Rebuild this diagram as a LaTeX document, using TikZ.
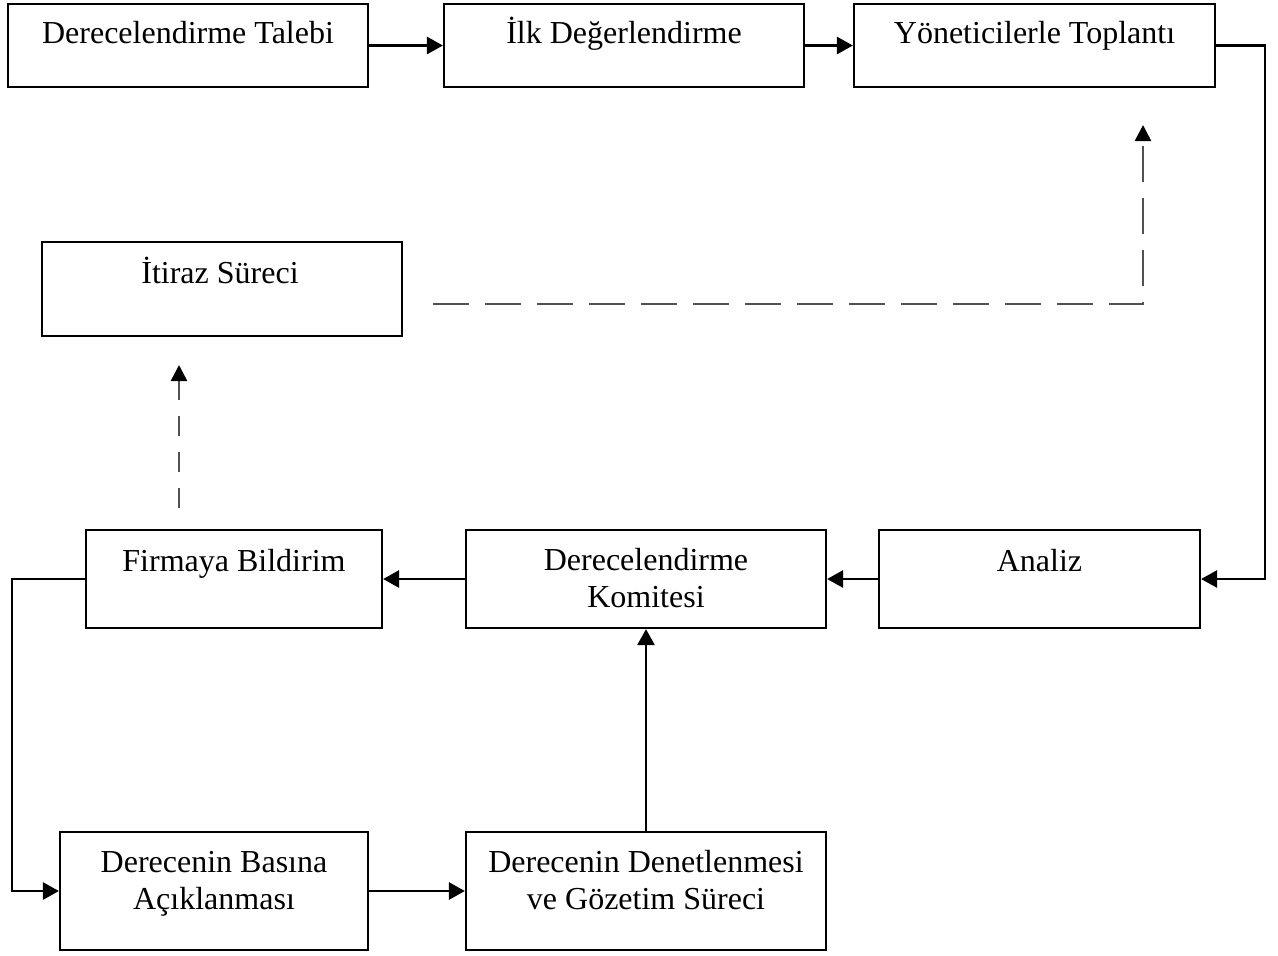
\documentclass[tikz,border=0pt]{standalone}
\usepackage{fontspec}
\setmainfont{Liberation Serif}
\usetikzlibrary{arrows.meta}
\begin{document}
\begin{tikzpicture}[x=0.5pt,y=-0.5pt,
  box/.style={draw=black,line width=1.1pt,rectangle,inner sep=0pt},
  lbl/.style={anchor=base,inner sep=0pt,font=\fontsize{16}{19}\selectfont},
  conn/.style={line width=1.4pt,-{Triangle[length=8pt,width=8.5pt]}},
  dconn/.style={line width=1.3pt,draw=black!68,-{Triangle[length=8pt,width=8pt,fill=black,color=black]}},
  longdash/.style={dash pattern=on 18pt off 8pt},
  shortdash/.style={dash pattern=on 10pt off 8pt}]
\useasboundingbox (0,0) rectangle (1278,955);
% boxes
\node[box,minimum width=180pt,minimum height=41.5pt] (talebi) at (188,45.5) {};
\node[box,minimum width=180pt,minimum height=41.5pt] (ilk) at (624,45.5) {};
\node[box,minimum width=180.5pt,minimum height=41.5pt] (yon) at (1034.5,45.5) {};
\node[box,minimum width=180pt,minimum height=47pt] (itiraz) at (222,289) {};
\node[box,minimum width=148pt,minimum height=49pt] (firma) at (234,579) {};
\node[box,minimum width=180pt,minimum height=49pt] (komite) at (646,579) {};
\node[box,minimum width=160.5pt,minimum height=49pt] (analiz) at (1039.5,579) {};
\node[box,minimum width=154pt,minimum height=59pt] (basina) at (214,891) {};
\node[box,minimum width=180pt,minimum height=59pt] (denet) at (646,891) {};
% texts
\node[lbl] (talebiT) at (188,43) {Derecelendirme Talebi};
\node[lbl] (ilkT) at (624,43) {İlk Değerlendirme};
\node[lbl] (yonT) at (1034.5,43) {Yöneticilerle Toplantı};
\node[lbl] (itirazT) at (220,283) {İtiraz Süreci};
\node[lbl] (firmaT) at (234,571) {Firmaya Bildirim};
\node[lbl] (komiteT1) at (646,570) {Derecelendirme};
\node[lbl] (komiteT2) at (646,607) {Komitesi};
\node[lbl] (analizT) at (1039.5,571) {Analiz};
\node[lbl] (basinaT1) at (214,872) {Derecenin Basına};
\node[lbl] (basinaT2) at (214,909) {Açıklanması};
\node[lbl] (denetT1) at (646,872) {Derecenin Denetlenmesi};
\node[lbl] (denetT2) at (646,909) {ve Gözetim Süreci};
% helper coordinates
\coordinate (rightrail) at (1265,45.5);
\coordinate (leftrail) at (12,579);
\coordinate (dashA) at (433,304);
\coordinate (dashB) at (1143,304);
\coordinate (dashTip) at (1143,125);
\coordinate (dashC) at (179,508);
\coordinate (dashCTip) at (179,365);
% solid connectors
\draw[conn] (talebi.east) -- (ilk.west);
\draw[conn] (ilk.east) -- (yon.west);
\draw[conn] (yon.east) -- (rightrail) |- (analiz.east);
\draw[conn] (analiz.west) -- (komite.east);
\draw[conn] (komite.west) -- (firma.east);
\draw[conn] (firma.west) -- (leftrail) |- (basina.west);
\draw[conn] (basina.east) -- (denet.west);
\draw[conn] (denet.north) -- (komite.south);
% dashed connectors
\draw[dconn,longdash] (dashA) -- (dashB) -- (dashTip);
\draw[dconn,shortdash] (dashC) -- (dashCTip);
\end{tikzpicture}
\end{document}
